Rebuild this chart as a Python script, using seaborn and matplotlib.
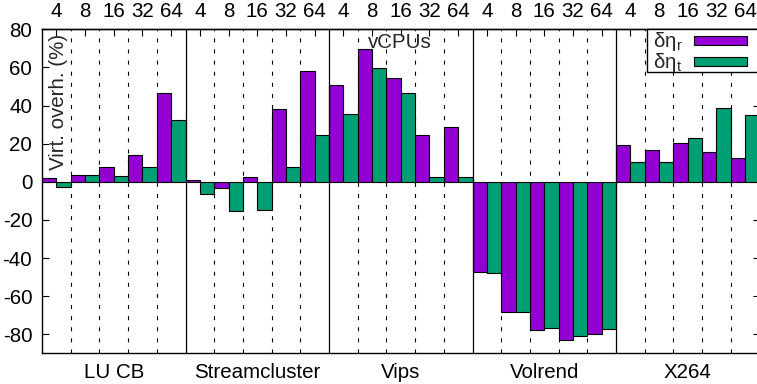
import matplotlib
matplotlib.use("Agg")
import matplotlib.pyplot as plt
from matplotlib.patches import Rectangle
import seaborn as sns
import pandas as pd

# benchmarks on the bottom axis, vCPU counts on the top axis
benchmarks = ["LU CB", "Streamcluster", "Vips", "Volrend", "X264"]
vcpus = [4, 8, 16, 32, 64]
series_names = ["δη$_\\mathrm{r}$", "δη$_\\mathrm{t}$"]

# virtualization overhead (%) per benchmark, ordered by vCPU count
eta_r = [
    1.9, 3.3, 7.7, 14.1, 46.6,       # LU CB
    0.9, -3.3, 2.5, 38.2, 58.1,      # Streamcluster
    50.8, 69.5, 54.3, 24.6, 28.5,    # Vips
    -47.3, -68.3, -77.9, -82.8, -80.1,  # Volrend
    19.4, 16.8, 20.3, 15.6, 12.6,    # X264
]
eta_t = [
    -3.0, 3.7, 2.8, 7.9, 32.6,
    -6.3, -15.5, -14.7, 7.7, 24.5,
    35.6, 59.6, 46.5, 2.5, 2.5,
    -47.8, -68.3, -76.7, -80.8, -77.2,
    10.3, 10.6, 23.2, 38.6, 34.9,
]

colors = ["#9400D3", "#009E73"]

sns.set_style("white")
plt.rcParams["font.family"] = ["Liberation Sans", "DejaVu Sans"]
plt.rcParams["mathtext.fontset"] = "custom"
plt.rcParams["mathtext.rm"] = "Liberation Sans"
plt.rcParams["axes.unicode_minus"] = False
fs = 14.8

slots = [f"{b}|{v}" for b in benchmarks for v in vcpus]
df = pd.DataFrame({
    "slot": slots * 2,
    "value": eta_r + eta_t,
    "series": [series_names[0]] * len(slots) + [series_names[1]] * len(slots),
})

W, H = 757, 384
x0, x1, y0, y1 = 42, 759.5, 29.3, 353.3   # plot frame in pixels (top-left origin)
fig = plt.figure(figsize=(W / 100, H / 100), dpi=100)
ax = fig.add_axes([x0 / W, 1 - y1 / H, (x1 - x0) / W, (y1 - y0) / H])

def ax_x(px):
    return (px - x0) / (x1 - x0)

def ax_y(py):
    return (y1 - py) / (y1 - y0)

n_slots = len(slots)
n_v = len(vcpus)
# dashed separators between vCPU slots, solid between benchmarks
for i in range(n_slots - 1):
    pos = i + 0.5
    if (i + 1) % n_v == 0:
        ax.axvline(pos, color="black", lw=0.9, zorder=3)
    else:
        ax.axvline(pos, color="black", lw=0.8, ls=(0, (3.6, 6.4)), zorder=0.5)

sns.barplot(data=df, x="slot", y="value", hue="series", order=slots,
            hue_order=series_names, palette=colors, dodge=True, width=1.0,
            edgecolor="black", linewidth=0.8, saturation=1, legend=False,
            ax=ax, zorder=2)

ax.set_xlim(-0.5, n_slots - 0.5)
ax.set_ylim(-90, 80)
ax.set_xlabel("")
ax.set_ylabel("")

ax.set_yticks(range(-80, 81, 20))
ax.set_xticks([n_v * g + (n_v - 1) / 2 for g in range(len(benchmarks))])
ax.set_xticklabels(benchmarks)
ax.tick_params(axis="both", direction="in", length=5, width=0.8,
               labelsize=fs, color="black", labelcolor="black")
ax.tick_params(axis="x", pad=7)
ax.tick_params(axis="y", pad=7, right=True, left=True)

top = ax.secondary_xaxis("top")
top.set_xticks(range(n_slots))
top.set_xticklabels([str(v) for v in vcpus] * len(benchmarks))
top.tick_params(direction="in", length=5, width=0.8, labelsize=fs, pad=6,
                color="black", labelcolor="black")
top.spines["top"].set_linewidth(1.0)

for s in ax.spines.values():
    s.set_color("black")
    s.set_linewidth(1.0)

# key box in the top-right corner
ax.add_patch(Rectangle((ax_x(646.7), ax_y(71.7)), 1 - ax_x(646.7), 1 - ax_y(71.7),
                       transform=ax.transAxes, facecolor="white",
                       edgecolor="black", lw=1.0, zorder=5, clip_on=False))
for (sy0, sy1), color, name in zip([(35.7, 45.0), (56.7, 66.0)], colors, series_names):
    ax.add_patch(Rectangle((ax_x(694), ax_y(sy1)), ax_x(747) - ax_x(694),
                           ax_y(sy0) - ax_y(sy1), transform=ax.transAxes,
                           facecolor=color, edgecolor="black", lw=0.8, zorder=6))
    ax.text(ax_x(653), ax_y((sy0 + sy1) / 2 + 1.5), name, transform=ax.transAxes,
            ha="left", va="center", fontsize=fs, zorder=7)

fig.text(400 / W, 1 - 42 / H, "vCPUs", ha="center", va="center", fontsize=fs)
fig.text(58 / W, 1 - 102 / H, "Virt. overh. (%)", ha="center", va="center",
         rotation=90, fontsize=fs)

fig.savefig("out.png", dpi=100)
